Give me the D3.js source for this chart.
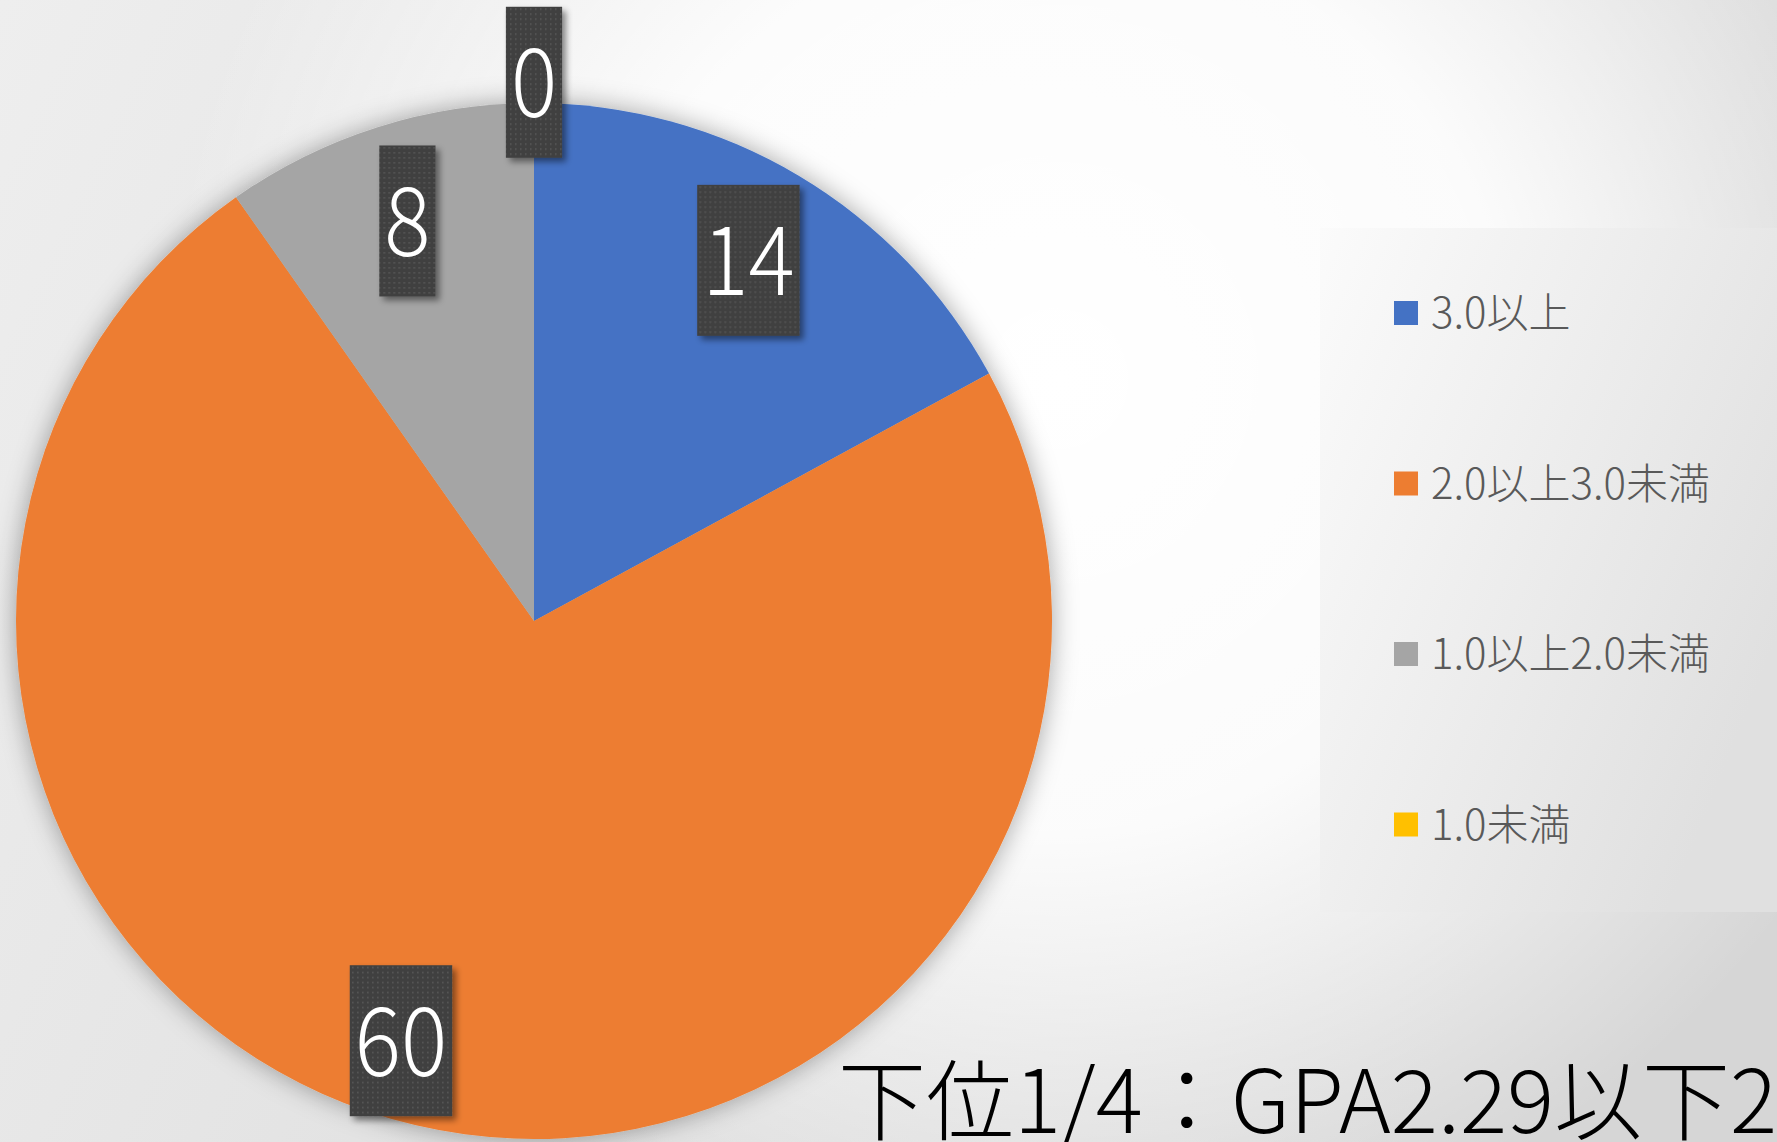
<!DOCTYPE html>
<html>
<head>
<meta charset="utf-8">
<script src="https://cdn.jsdelivr.net/npm/d3@7"></script>
<style>
  body { margin: 0; overflow: hidden; background: #fff; }
  svg { display: block; }
</style>
</head>
<body>
<script>
const categories = ["3.0以上", "2.0以上3.0未満", "1.0以上2.0未満", "1.0未満"];
const values = [14, 60, 8, 0];
const colors = ["#4472C4", "#ED7D31", "#A5A5A5", "#FFC000"];
// only the visible part of the slide title (it runs off the slide)
const title = "下位1/4：GPA2.29以下2";

const width = 1777;
const height = 1142;
const cx = 534;
const cy = 621;
const radius = 518;
const font = "'Noto Sans CJK JP', 'Noto Sans', sans-serif";

const data = categories.map((c, i) => ({ name: c, value: values[i], color: colors[i] }));

const svg = d3
  .select("body")
  .append("svg")
  .attr("width", width)
  .attr("height", height);

const defs = svg.append("defs");

// background: light gray left to right plus a white glow
const bgLin = defs.append("linearGradient").attr("id", "bgLin")
  .attr("x1", 0).attr("y1", 0).attr("x2", 1).attr("y2", 0.3);
bgLin.append("stop").attr("offset", 0).attr("stop-color", "#eeeeee");
bgLin.append("stop").attr("offset", 1).attr("stop-color", "#d6d6d6");

const bgRad = defs.append("radialGradient").attr("id", "bgRad")
  .attr("gradientUnits", "userSpaceOnUse")
  .attr("cx", 1060).attr("cy", 380).attr("r", 900);
bgRad.append("stop").attr("offset", 0).attr("stop-color", "#fff").attr("stop-opacity", 1);
bgRad.append("stop").attr("offset", 0.5).attr("stop-color", "#fff").attr("stop-opacity", 0.9);
bgRad.append("stop").attr("offset", 1).attr("stop-color", "#fff").attr("stop-opacity", 0);

const legGrad = defs.append("linearGradient").attr("id", "legGrad")
  .attr("x1", 0).attr("y1", 0).attr("x2", 1).attr("y2", 0.6);
legGrad.append("stop").attr("offset", 0).attr("stop-color", "#fbfbfb");
legGrad.append("stop").attr("offset", 1).attr("stop-color", "#e0e0e0");

// dotted fill of the data label boxes
const dots = defs.append("pattern").attr("id", "dots")
  .attr("patternUnits", "userSpaceOnUse").attr("width", 5).attr("height", 5);
dots.append("rect").attr("width", 5).attr("height", 5).attr("fill", "#404040");
dots.append("rect").attr("x", 1).attr("y", 1).attr("width", 1.6).attr("height", 1.6).attr("fill", "#575757");

const pieShadow = defs.append("filter").attr("id", "pieShadow")
  .attr("x", "-10%").attr("y", "-10%").attr("width", "120%").attr("height", "120%");
pieShadow.append("feDropShadow").attr("dx", 0).attr("dy", 0)
  .attr("stdDeviation", 13).attr("flood-color", "#000").attr("flood-opacity", 0.35);

const boxShadow = defs.append("filter").attr("id", "boxShadow")
  .attr("x", "-30%").attr("y", "-30%").attr("width", "160%").attr("height", "160%");
boxShadow.append("feDropShadow").attr("dx", 4).attr("dy", 4)
  .attr("stdDeviation", 3).attr("flood-color", "#000").attr("flood-opacity", 0.45);

svg.append("rect").attr("width", width).attr("height", height).attr("fill", "url(#bgLin)");
svg.append("rect").attr("width", width).attr("height", height).attr("fill", "url(#bgRad)");

// legend panel
svg.append("rect")
  .attr("x", 1320).attr("y", 228)
  .attr("width", width - 1320).attr("height", 684)
  .attr("fill", "url(#legGrad)");

const pie = d3.pie().sort(null).value((d) => d.value);
const arcs = pie(data);
const arc = d3.arc().innerRadius(0).outerRadius(radius);

const chartGroup = svg.append("g").attr("transform", `translate(${cx},${cy})`);

chartGroup.append("g")
  .attr("filter", "url(#pieShadow)")
  .selectAll("path")
  .data(arcs)
  .join("path")
  .attr("d", arc)
  .attr("fill", (d) => d.data.color);

// data labels ("best fit": the big slice's label sits a bit further round)
const labelPos = (d) => {
  const big = d.endAngle - d.startAngle > Math.PI;
  const r = d.value === 0 ? radius * 1.04 : radius * (big ? 0.85 : 0.81);
  const a = (d.startAngle + d.endAngle) / 2 + (big ? 0.077 : 0);
  return [r * Math.sin(a), -r * Math.cos(a)];
};

const labels = chartGroup.append("g")
  .selectAll("g")
  .data(arcs)
  .join("g")
  .attr("transform", (d) => `translate(${labelPos(d)})`);

const boxes = labels.append("rect")
  .attr("fill", "url(#dots)")
  .attr("filter", "url(#boxShadow)");

const texts = labels.append("text")
  .attr("text-anchor", "middle")
  .attr("y", 35)
  .attr("transform", "scale(0.9,1)")
  .style("font-family", font)
  .style("font-weight", 300)
  .style("font-size", "96px")
  .attr("fill", "#fff")
  .text((d) => d.value);

texts.each(function (d, i) {
  const w = this.getComputedTextLength() * 0.9 + 10;
  d3.select(boxes.nodes()[i])
    .attr("x", -w / 2).attr("y", -75.5)
    .attr("width", w).attr("height", 151);
});

// legend
const legend = svg.append("g")
  .selectAll("g")
  .data(data)
  .join("g")
  .attr("transform", (d, i) => `translate(1394,${313 + i * 170.5})`);

legend.append("rect")
  .attr("x", 0).attr("y", -12)
  .attr("width", 24).attr("height", 24)
  .attr("fill", (d) => d.color);

legend.append("text")
  .attr("x", 37).attr("y", 15)
  .style("font-family", font)
  .style("font-weight", 300)
  .style("font-size", "42px")
  .attr("fill", "#595959")
  .text((d) => d.name);

// title, runs off the right edge as in the slide
svg.append("text")
  .attr("x", 838).attr("y", 1133)
  .style("font-family", font)
  .style("font-weight", 300)
  .style("font-size", "88px")
  .attr("fill", "#000")
  .text(title);
</script>
</body>
</html>
